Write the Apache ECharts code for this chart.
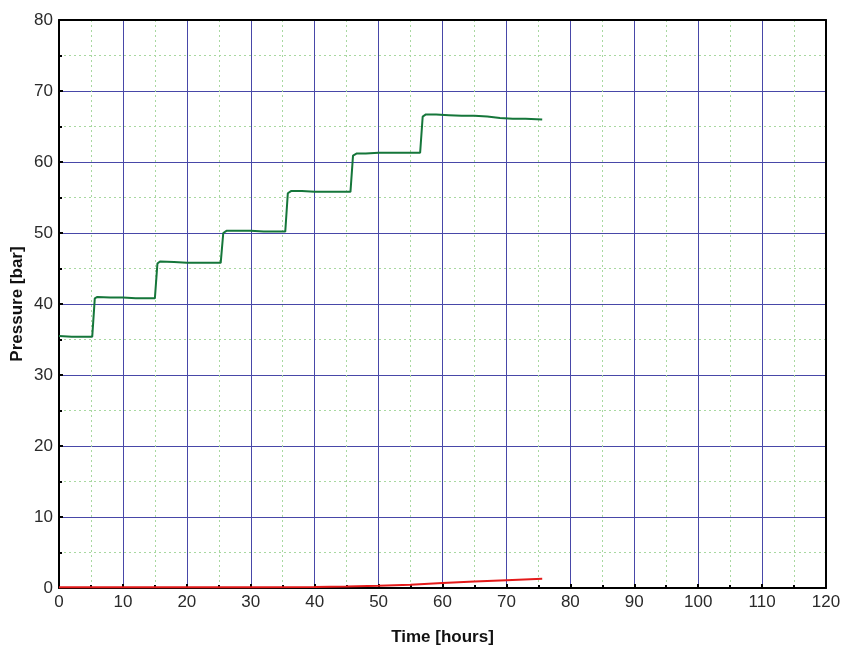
<!DOCTYPE html>
<html><head><meta charset="utf-8">
<script src="https://cdn.jsdelivr.net/npm/echarts@6/dist/echarts.min.js"></script>
<style>html,body{margin:0;padding:0;background:#fff}#c{width:841px;height:647px}</style>
</head><body><div id="c"></div>
<script>
const greenTime = [0,2,4,5.2,5.6,6,8,10,12,14,15.0,15.4,15.8,18,20,22,24,25.3,25.7,26.2,28,30,32,34,35.4,35.8,36.3,38,40,42,44,45.6,46.0,46.6,48,50,52,54,56.5,56.9,57.4,59,61,63,65,67,69,71,73,75.6];
const greenPressure = [35.5,35.4,35.4,35.4,40.8,41.0,40.9,40.9,40.8,40.8,40.8,45.7,46.0,45.9,45.8,45.8,45.8,45.8,50.0,50.3,50.3,50.3,50.2,50.2,50.2,55.6,55.9,55.9,55.8,55.8,55.8,55.8,60.9,61.2,61.2,61.3,61.3,61.3,61.3,66.4,66.7,66.7,66.6,66.5,66.5,66.4,66.2,66.1,66.1,66.0];
const redTime = [0,10,20,30,40,45,50,55,60,65,70,75.6];
const redPressure = [0.1,0.1,0.1,0.1,0.15,0.2,0.3,0.45,0.7,0.9,1.1,1.3];

const chart = echarts.init(document.getElementById('c'));
const font = 'Liberation Sans, Arial, sans-serif';
const labelStyle = {color:'#2a2a2a', fontSize:17, fontFamily:font};
function axisCommon(){
  return {
    axisLine:{show:true,onZero:false,lineStyle:{color:'#000',width:2}},
    axisTick:{inside:true,length:4,lineStyle:{color:'#000',width:2}},
    minorTick:{show:true,splitNumber:2,length:3,lineStyle:{color:'#000',width:2}},
    splitLine:{show:true,lineStyle:{color:'#4848a8',width:1}},
    minorSplitLine:{show:true,lineStyle:{color:'#a8d8a0',width:1,type:[2,3]}}
  };
}
function frameAxis(pos, min, max){
  return {type:'value',position:pos,min:min,max:max,z:5,
    axisLine:{show:true,onZero:false,lineStyle:{color:'#000',width:2}},
    axisTick:{show:false},axisLabel:{show:false},splitLine:{show:false}};
}
chart.setOption({
  animation:false,
  grid:{left:59,right:15,top:20,bottom:59,containLabel:false,outerBoundsMode:'none'},
  xAxis:[Object.assign(axisCommon(),{type:'value',min:0,max:120,interval:10,
    name:'Time [hours]',nameLocation:'middle',nameGap:41,nameMoveOverlap:false,
    nameTextStyle:{color:'#111',fontSize:17,fontWeight:'bold',fontFamily:font},
    axisLabel:Object.assign({margin:6},labelStyle)
  }), frameAxis('top',0,120)],
  yAxis:[Object.assign(axisCommon(),{type:'value',min:0,max:80,interval:10,
    name:'Pressure [bar]',nameLocation:'middle',nameGap:33,nameMoveOverlap:false,
    nameTextStyle:{color:'#111',fontSize:17,fontWeight:'bold',fontFamily:font},
    axisLabel:Object.assign({margin:6},labelStyle)
  }), frameAxis('right',0,80)],
  series:[
    {type:'line',data:greenTime.map((t,i)=>[t,greenPressure[i]]),showSymbol:false,
     lineStyle:{color:'#15763a',width:2}},
    {type:'line',data:redTime.map((t,i)=>[t,redPressure[i]]),showSymbol:false,
     lineStyle:{color:'#e41a1a',width:2}}
  ]
});
</script></body></html>
